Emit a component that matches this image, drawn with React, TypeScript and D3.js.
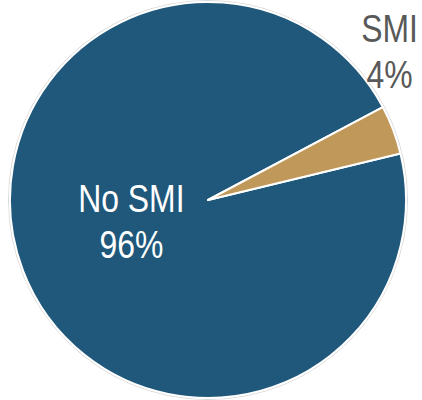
import React from "react";
import * as d3 from "d3";

const categories = ["No SMI", "SMI"];
const values = [96, 4];
const percentLabels = ["96%", "4%"];
const colors = ["#1F587A", "#C0985A"];

const W = 422;
const H = 400;
const cx = 208;
const cy = 200;
const R = 198;
const startDeg = 76.4;

export default function App() {
  const data = categories.map((c, i) => ({ c, v: values[i], i }));
  const pie = d3
    .pie<any>()
    .sort(null)
    .value((d) => d.v)
    .startAngle((startDeg * Math.PI) / 180)
    .endAngle((startDeg * Math.PI) / 180 + 2 * Math.PI);
  const arcs = pie(data);
  const arc = d3.arc<any>().innerRadius(0).outerRadius(R);
  const inLabelArc = d3.arc<any>().innerRadius(82).outerRadius(82);
  const font = "'Liberation Sans', Arial, sans-serif";

  return (
    <svg
      width={W}
      height={H}
      style={{ position: "absolute", left: 0, top: 0, display: "block" }}
    >
      <circle cx={cx} cy={cy} r={R + 1.5} fill="none" stroke="#D9D9D9" strokeWidth={1} />
      <g transform={`translate(${cx},${cy})`}>
        {arcs.map((a, i) => (
          <path key={i} d={arc(a) || ""} fill={colors[i]} stroke="#fff" strokeWidth={2} strokeLinejoin="round" />
        ))}
        {arcs.map((a, i) => {
          let x: number, y: number, fill: string, dy0: number;
          if (i === 0) {
            const c = inLabelArc.centroid(a);
            x = c[0];
            y = c[1];
            fill = "#fff";
            dy0 = -17;
          } else {
            const mid = (a.startAngle + a.endAngle) / 2 - 0.32;
            x = Math.sin(mid) * (R + 36);
            y = -Math.cos(mid) * (R + 36);
            fill = "#595959";
            dy0 = -10;
          }
          return (
            <text
              key={"t" + i}
              transform={`translate(${x},${y}) scale(0.84,1)`}
              textAnchor="middle"
              fill={fill}
              fontFamily={font}
              fontSize={38}
            >
              <tspan x={0} dy={dy0}>{categories[i]}</tspan>
              <tspan x={0} dy={46}>{percentLabels[i]}</tspan>
            </text>
          );
        })}
      </g>
    </svg>
  );
}
